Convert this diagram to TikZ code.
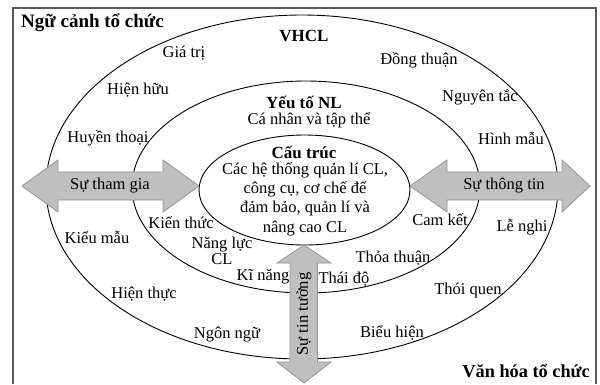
\documentclass[tikz,border=0pt]{standalone}
\usepackage{fontspec}
\setmainfont{Liberation Serif}
\begin{document}
\begin{tikzpicture}[x=1pt,y=-1pt,
  lbl/.style={font=\fontsize{16.5}{19}\selectfont, inner sep=0pt, align=center},
  ttl/.style={font=\fontsize{17}{20}\selectfont\bfseries, inner sep=0pt},
  ring/.style={draw=black, line width=0.9pt},
  barrow/.style={fill=black!25, draw=black!42, line width=0.8pt}]
\useasboundingbox (0,0) rectangle (600,384);
\fill[white] (0,0) rectangle (600,384);
% frame
\draw[black!65, line width=1.3pt] (13,384) -- (13,8) -- (596,8) -- (596,384);
% rings
\draw[ring] (302,187) ellipse [x radius=256, y radius=172];
\draw[ring] (306,187) ellipse [x radius=174, y radius=106];
\draw[ring, fill=white] (304.5,190) ellipse [x radius=105.5, y radius=55];
% block arrows
\draw[barrow] (22,186) -- (58,160) -- (58,172) -- (163,172) -- (163,160) -- (199,186)
  -- (163,212) -- (163,200) -- (58,200) -- (58,212) -- cycle;
\draw[barrow] (410,186) -- (447,160) -- (447,172) -- (562,172) -- (562,160) -- (590,186)
  -- (562,212) -- (562,200) -- (447,200) -- (447,212) -- cycle;
\draw[barrow] (304,245) -- (331,263) -- (317.5,263) -- (317.5,362) -- (331,362) -- (304,383)
  -- (277,362) -- (290,362) -- (290,263) -- (277,263) -- cycle;
% titles
\node[ttl, font=\fontsize{19}{22}\selectfont\bfseries, anchor=west] (ctx) at (21,23) {Ngữ cảnh tổ chức};
\node[ttl, font=\fontsize{18.3}{21}\selectfont\bfseries, anchor=east] (vhtc) at (590,371) {Văn hóa tổ chức};
\node[ttl] (vhcl) at (304,36) {VHCL};
\node[ttl] (ytnl) at (304,102) {Yếu tố NL};
\node[lbl] (cntt) at (309,120) {Cá nhân và tập thể};
\node[ttl] (ct) at (304,152) {Cấu trúc};
\node[lbl, font=\fontsize{16.5}{19.3}\selectfont] (ctb) at (305,199) {Các hệ thống quản lí CL,\\công cụ, cơ chế để\\đảm bảo, quản lí và\\nâng cao CL};
% arrow labels
\node[lbl] (stg) at (110,186) {Sự tham gia};
\node[lbl] (stt) at (504,186) {Sự thông tin};
\node[lbl, rotate=90] (stt2) at (304,314) {Sự tin tưởng};
% outer ring words
\node[lbl] (gt) at (184,53) {Giá trị};
\node[lbl] (dt) at (419,60) {Đồng thuận};
\node[lbl] (hh) at (138,90) {Hiện hữu};
\node[lbl] (nt) at (480,97) {Nguyên tắc};
\node[lbl] (ht) at (108,138) {Huyền thoại};
\node[lbl] (hm) at (511,138) {Hình mẫu};
\node[lbl] (km) at (97,237) {Kiểu mẫu};
\node[lbl] (ln) at (522,227) {Lễ nghi};
\node[lbl] (htc) at (144,294) {Hiện thực};
\node[lbl] (tq) at (468,291) {Thói quen};
\node[lbl] (nn) at (227,335) {Ngôn ngữ};
\node[lbl] (bh) at (392,333) {Biểu hiện};
% middle ring words
\node[lbl] (kt) at (181,223) {Kiến thức};
\node[lbl, font=\fontsize{16.5}{16}\selectfont] (nl) at (222,251) {Năng lực\\CL};
\node[lbl] (kn) at (263,277) {Kĩ năng};
\node[lbl] (td) at (344,279) {Thái độ};
\node[lbl] (thth) at (393,258) {Thỏa thuận};
\node[lbl] (ck) at (440,220) {Cam kết};
\end{tikzpicture}
\end{document}
